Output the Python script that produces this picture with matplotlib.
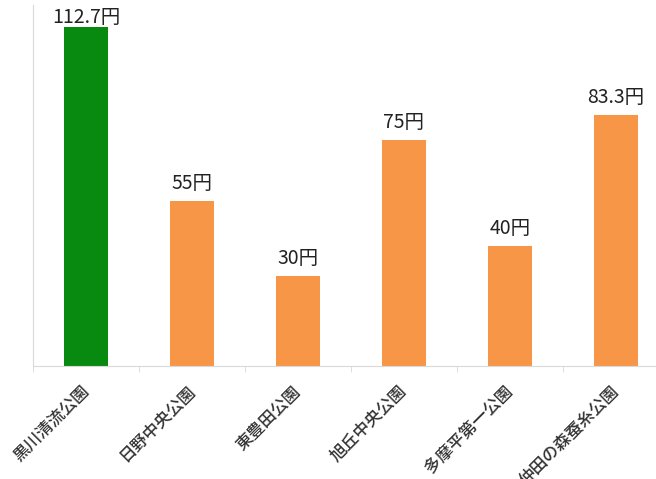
import matplotlib.pyplot as plt
import numpy as np

plt.rcParams['font.family'] = ['Noto Sans CJK JP', 'DejaVu Sans']

parks = ['黒川清流公園', '日野中央公園', '東豊田公園', '旭丘中央公園', '多摩平第一公園', '仲田の森蚕糸公園']
prices = [112.7, 55, 30, 75, 40, 83.3]
labels = ['112.7円', '55円', '30円', '75円', '40円', '83.3円']
colors = ['#088a10', '#f79646', '#f79646', '#f79646', '#f79646', '#f79646']

fig = plt.figure(figsize=(6.56, 4.79), dpi=100)
# axes runs off the right edge like the source image
ax = fig.add_axes([33 / 656, 113 / 479, 636 / 656, 361 / 479])

x = np.arange(len(parks))
ax.bar(x, prices, width=0.41, color=colors)

for i, (v, t) in enumerate(zip(prices, labels)):
    off = -1 if i == 0 else 5
    ax.annotate(t, (x[i], v), xytext=(0, off), textcoords='offset points',
                ha='center', va='bottom', fontsize=14, color='#222222')

ax.set_xlim(-0.5, len(parks) - 0.5)
ax.set_ylim(0, 120)

for s in ['top', 'right']:
    ax.spines[s].set_visible(False)
ax.spines['left'].set_color('#d9d9d9')
ax.spines['bottom'].set_color('#d9d9d9')
ax.set_yticks([])

ax.set_xticks(x)
ax.set_xticklabels(parks, rotation=45, ha='right', va='center',
                   rotation_mode='anchor', fontsize=12, fontweight='medium',
                   color='#333333')
ax.tick_params(axis='x', which='major', length=0, pad=16)
ax.set_xticks(np.arange(len(parks) + 1) - 0.5, minor=True)
ax.tick_params(axis='x', which='minor', length=4, color='#d9d9d9')

fig.savefig('out.png', dpi=100)
